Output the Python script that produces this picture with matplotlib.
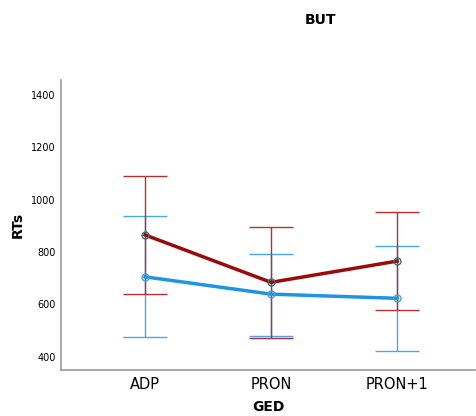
import numpy as np
import matplotlib
matplotlib.use('Agg')
import matplotlib.pyplot as plt

categories = ['ADP', 'PRON', 'PRON+1']

red_mean = [865, 684, 765]
red_upper = [1090, 897, 953]
red_lower = [641, 473, 579]

blue_mean = [705, 639, 623]
blue_upper = [937, 794, 821]
blue_lower = [476, 481, 423]

fig = plt.figure(figsize=(4.77, 4.16), dpi=100)
ax = fig.add_axes([0.128, 0.111, 0.868, 0.697])

x = np.arange(len(categories))

def draw(mean, lower, upper, line_col, bar_col, edge_col):
        mean = np.array(mean)
        err = [mean - np.array(lower), np.array(upper) - mean]
        ax.errorbar(x, mean, yerr=err, fmt='none', ecolor=bar_col, elinewidth=1,
                    capsize=16, capthick=1)
        ax.plot(x, mean, color=line_col, lw=2.5, zorder=3)
        ax.plot(x, mean, 'o', ms=5, mfc='none', mec=edge_col, mew=1, zorder=4)

draw(blue_mean, blue_lower, blue_upper, '#1e94e2', '#4aa8ea', '#4a9fd0')
draw(red_mean, red_lower, red_upper, '#9a0a0a', '#b83030', '#3f6f6f')

ax.set_xlim(-0.667, 2.62)
ax.set_ylim(350, 1457)
ax.set_yticks([400, 600, 800, 1000, 1200, 1400])
ax.set_xticks(x)
ax.set_xticklabels(categories, fontsize=10.5)
ax.tick_params(axis='y', labelsize=7, length=0, pad=4)
ax.tick_params(axis='x', length=0, pad=5)

for s in ['top', 'right']:
        ax.spines[s].set_visible(False)
for s in ['left', 'bottom']:
        ax.spines[s].set_color('#999999')
        ax.spines[s].set_linewidth(1.2)

ax.set_ylabel('RTs', fontsize=10, fontweight='bold')
ax.yaxis.set_label_coords(-0.088, 0.5)
ax.set_xlabel('GED', fontsize=10, fontweight='bold', labelpad=6)
fig.text(0.671, 0.952, 'BUT', ha='center', va='center', fontsize=10, fontweight='bold')

fig.savefig('out.png', dpi=100)
